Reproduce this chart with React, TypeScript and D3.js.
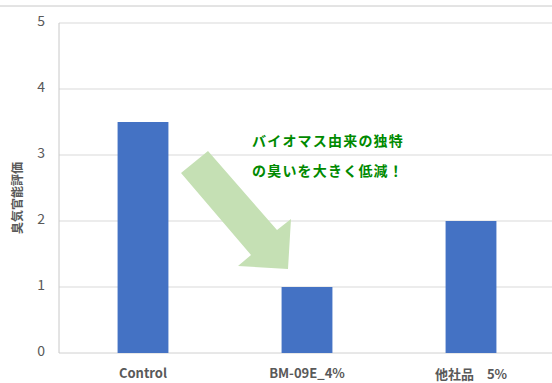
import React from "react";
import * as d3 from "d3";

const categories = ["Control", "BM-09E_4%", "他社品　5%"];
const values = [3.5, 1, 2];
const yTicks = [0, 1, 2, 3, 4, 5];
const yTitle = "臭気官能評価";
const noteLines = ["バイオマス由来の独特", "の臭いを大きく低減！"];
const arrowPts: [number, number][] = [
  [181, 173], [208, 151], [277, 230], [291, 219], [288, 269], [238, 266], [251, 255],
];

const W = 552, H = 383;
const left = 59, top = 23, bottom = 353, right = 552;

export default function App() {
  const y = d3.scaleLinear().domain([0, 5]).range([bottom, top]);
  const x = d3.scaleBand<string>().domain(categories).range([61, 553]).paddingInner(0.69).paddingOuter(0.345);
  const font = "'Noto Sans CJK JP', 'Noto Sans', sans-serif";
  const arrowPath = d3.line()(arrowPts) + "Z";
  return (
    <svg width={W} height={H} style={{ position: "absolute", left: 0, top: 0, background: "#fff" }}>
      <line x1={0} x2={W} y1={6} y2={6} stroke="#c8c8c8" strokeWidth={1} />
      {yTicks.map((t) => (
        <g key={t}>
          <line x1={left} x2={right} y1={y(t)} y2={y(t)} stroke={t === 0 ? "#d0d0d0" : "#d9d9d9"} strokeWidth={1} />
          <text x={45} y={y(t) - 2} dy="0.35em" textAnchor="end" fontSize={14} fill="#595959" fontFamily={font}>{t}</text>
        </g>
      ))}
      <line x1={left} x2={left} y1={top} y2={bottom} stroke="#c8c8c8" strokeWidth={1} />
      {categories.map((c, i) => (
        <rect key={c} x={x(c)} y={y(values[i])} width={x.bandwidth()} height={y(0) - y(values[i])} fill="#4472c4" />
      ))}
      {categories.map((c, i) => (
        <text key={c} x={(x(c) as number) + x.bandwidth() / 2} y={i === 2 ? 374.5 : 373.5} dy="0.35em" textAnchor="middle" fontSize={13} fontWeight="bold" fill="#595959" fontFamily={font}>{c}</text>
      ))}
      <text transform={`translate(18,${(top + bottom) / 2 + 10}) rotate(-90)`} textAnchor="middle" dy="0.35em" fontSize={12} fontWeight="bold" fill="#595959" fontFamily={font}>{yTitle}</text>
      <path d={arrowPath} fill="#c5e0b4" />
      {noteLines.map((s, i) => (
        <text key={i} x={252} y={141 + i * 30} dy="0.35em" fontSize={14} fontWeight="bold" fill="#008a00" fontFamily={font} letterSpacing={1.2}>{s}</text>
      ))}
    </svg>
  );
}
